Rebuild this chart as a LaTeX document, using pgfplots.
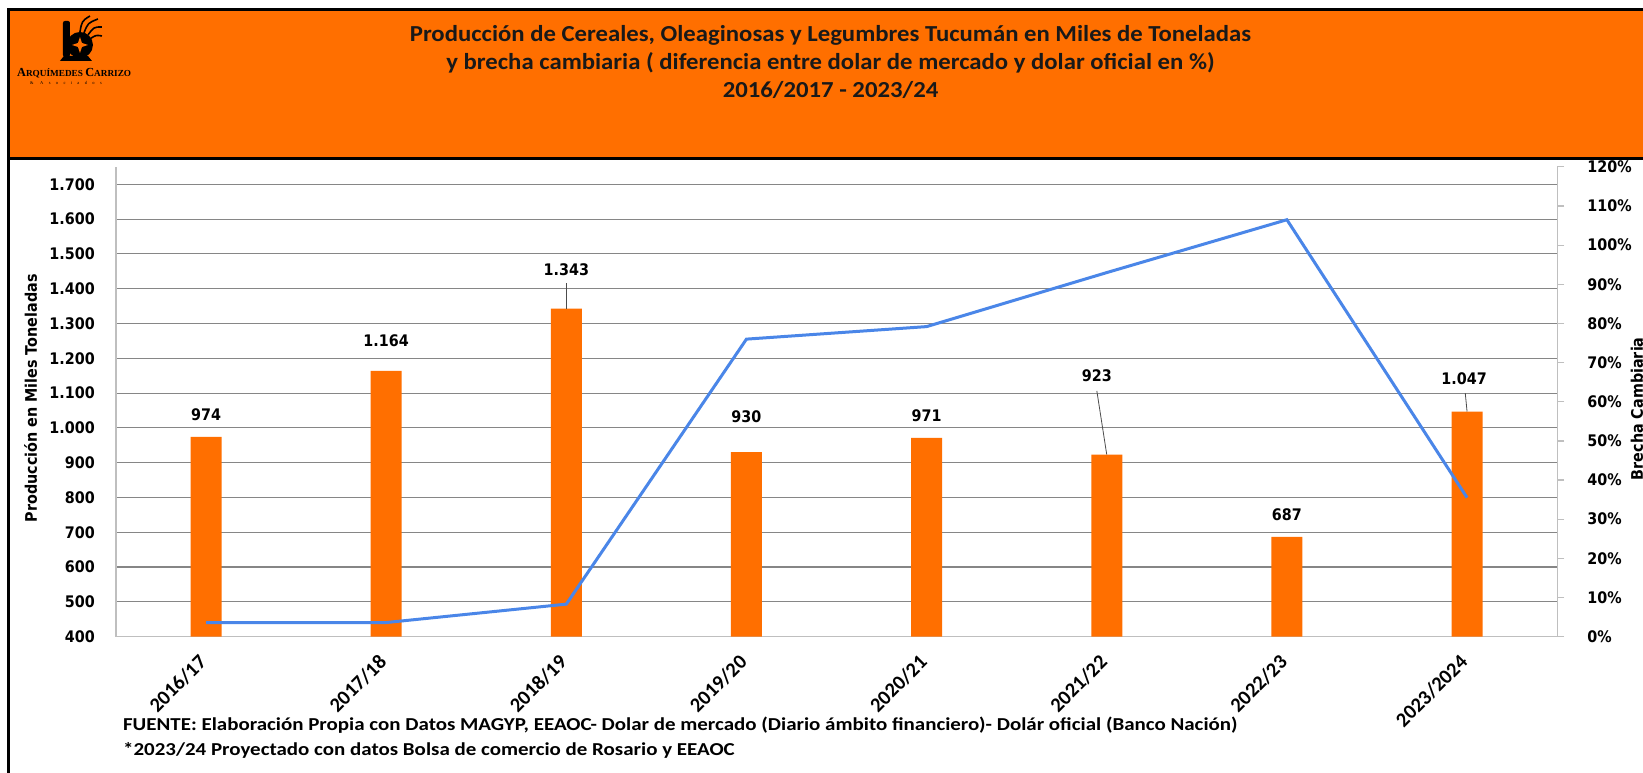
\documentclass[border=0pt]{standalone}
\usepackage{pgfplots}
\pgfplotsset{compat=1.18}
\usepackage{pgfplotstable}
\usepackage{fontspec}
\setmainfont{Carlito}
\newfontfamily\titfont{Carlito}[FakeStretch=1.08]
\newfontfamily\footfont{Carlito}[FakeStretch=1.15]
\newfontfamily\dvb{DejaVu Sans}[FakeStretch=0.9]
\newfontfamily\logofont{Liberation Serif}
\newfontfamily\logosp{Liberation Serif}[LetterSpace=120]
\definecolor{orng}{RGB}{255,111,0}
\definecolor{blu}{RGB}{74,134,232}
\definecolor{grd}{RGB}{134,134,134}
\definecolor{axl}{RGB}{191,191,191}

\pgfplotstableread{
x y dx dy
0 974 0 22
1 1164 0 30
2 1343 0 39
3 930 0 36
4 971 0 22
5 923 -10 79
6 687 0 22
7 1047 -3 33
}\prodtab

\pgfplotstableread{
x y
0 3.6
1 3.6
2 8.3
3 76.0
4 79.2
5 93.0
6 106.5
7 35.5
}\brechatab

\begin{document}
\begin{tikzpicture}
\begin{scope}[x=1bp,y=1bp]
\useasboundingbox (0,0) rectangle (1643,773);
\fill[white] (0,0) rectangle (1643,773);
\filldraw[fill=orng, draw=black, line width=2.5bp] (8.3,614.5) rectangle (1650,763.5);
\draw[black, line width=2.5bp] (8.3,-2) -- (8.3,614.5);

% logo
\fill[black, rounded corners=2bp] (63,716) rectangle (70,752);
\fill[black] (80,728) circle (13);
\fill[orng] (80,736) -- (82,730) -- (88,728) -- (82,726) -- (80,720) -- (78,726) -- (72,728) -- (78,730) -- cycle;
\fill[black] (60,712) -- (92,712) -- (88,717) -- (64,717) -- cycle;
\draw[black, line width=1.6bp] (84,740) .. controls (88,750) .. (98,754);
\draw[black, line width=1.6bp] (88,738) .. controls (94,746) .. (102,746);
\draw[black, line width=1.6bp] (90,734) .. controls (96,738) .. (102,737);
\draw[black, line width=1.6bp] (80,741) .. controls (82,752) .. (90,757);
\node[anchor=base west, inner sep=0pt] at (17,696) {\resizebox{114bp}{!}{\logofont\bfseries\fontsize{14}{14}\selectfont A\fontsize{10.5}{10.5}\selectfont RQUÍMEDES \fontsize{14}{14}\selectfont C\fontsize{10.5}{10.5}\selectfont ARRIZO}};
\node[anchor=base west, inner sep=0pt] at (30,688) {\logosp\fontsize{4.5}{5}\selectfont \& Asociados};

% title
\node[anchor=base, inner sep=0pt, font=\titfont\bfseries\fontsize{23}{28}\selectfont, text=black!90] at (831,731) {Producción de Cereales, Oleaginosas y Legumbres Tucumán en Miles de Toneladas};
\node[anchor=base, inner sep=0pt, font=\titfont\bfseries\fontsize{23}{28}\selectfont, text=black!90] at (831,703) {y brecha cambiaria ( diferencia entre dolar de mercado y dolar oficial en \%)};
\node[anchor=base, inner sep=0pt, font=\titfont\bfseries\fontsize{23}{28}\selectfont, text=black!90] at (831,675) {2016/2017 - 2023/24};

% footer
\node[anchor=base west, inner sep=0pt, font=\footfont\bfseries\fontsize{18.3}{18}\selectfont] at (123,42) {FUENTE: Elaboración Propia con Datos MAGYP, EEAOC- Dolar de mercado (Diario ámbito financiero)- Dolár oficial (Banco Nación)};
\node[anchor=base west, inner sep=0pt, font=\footfont\bfseries\fontsize{18.3}{18}\selectfont] at (123,17) {*2023/24 Proyectado con datos Bolsa de comercio de Rosario y EEAOC};
\end{scope}

\begin{axis}[
  at={(116bp,136bp)}, anchor=south west, scale only axis,
  width=1442bp, height=470bp,
  xmin=-0.5, xmax=7.5, ymin=400, ymax=1750,
  axis x line*=bottom, axis y line*=left,
  axis line style={draw=axl, line width=1.2bp, -},
  xtick={0,...,7},
  xticklabels={2016/17,2017/18,2018/19,2019/20,2020/21,2021/22,2022/23,2023/2024},
  ytick={400,500,...,1700},
  ymajorgrids, grid style={draw=grd, line width=1.1bp},
  major tick length=0pt, tick style={draw=none},
  /pgf/number format/1000 sep={.},
  /pgf/number format/assume math mode=true,
  yticklabel style={font=\dvb\bfseries\fontsize{16}{16}\selectfont, anchor=east, inner sep=0pt, xshift=-21bp},
  xticklabel style={font=\bfseries\fontsize{20.5}{20}\selectfont, inner sep=0pt, yshift=-22bp, xshift=-3bp, rotate=45, anchor=east},
  ylabel={Producción en Miles Toneladas},
  every axis y label/.style={at={(axis description cs:0,0.5)}, xshift=-79bp, yshift=3.5bp, rotate=90, anchor=base, inner sep=0pt, font=\dvb\bfseries\fontsize{16}{16}\selectfont},
]
\addplot[ybar, bar width=31bp, fill=orng, draw=none,
  nodes near coords, point meta=y,
  visualization depends on={\thisrow{dx}\as\dx},
  visualization depends on={\thisrow{dy}\as\dy},
  every node near coord/.style={anchor=center, xshift=\dx*1bp, yshift=\dy*1bp, inner sep=0pt, text=black, font=\dvb\bfseries\fontsize{16}{16}\selectfont}]
  table[x=x,y=y]{\prodtab};
\draw[black!70, line width=0.8bp] (axis cs:2,1416) -- (axis cs:2,1343);
\draw[black!70, line width=0.8bp] (axis cs:4.945,1106) -- (axis cs:5,923);
\draw[black!70, line width=0.8bp] (axis cs:6.99,1100) -- (axis cs:7,1047);
\end{axis}

\begin{axis}[
  at={(116bp,136bp)}, anchor=south west, scale only axis,
  width=1442bp, height=470bp,
  xmin=-0.5, xmax=7.5, ymin=0, ymax=120,
  axis x line=none, axis y line*=right,
  axis line style={draw=axl, line width=1.2bp, -},
  ytick={0,10,...,120},
  yticklabel={\pgfmathprintnumber{\tick}\%},
  /pgf/number format/assume math mode=true,
  tick align=outside, major tick length=7bp,
  ytick style={draw=axl, line width=1.2bp},
  yticklabel style={font=\dvb\bfseries\fontsize{16}{16}\selectfont, anchor=west, inner sep=0pt, xshift=23bp},
  ylabel={Brecha Cambiaria},
  every axis y label/.style={at={(axis description cs:1,0.5)}, xshift=85.7bp, yshift=-7bp, rotate=90, anchor=base, inner sep=0pt, font=\dvb\bfseries\fontsize{16}{16}\selectfont},
]
\addplot[blu, line width=3bp, mark=none] table[x=x,y=y]{\brechatab};
\end{axis}
\end{tikzpicture}
\end{document}
